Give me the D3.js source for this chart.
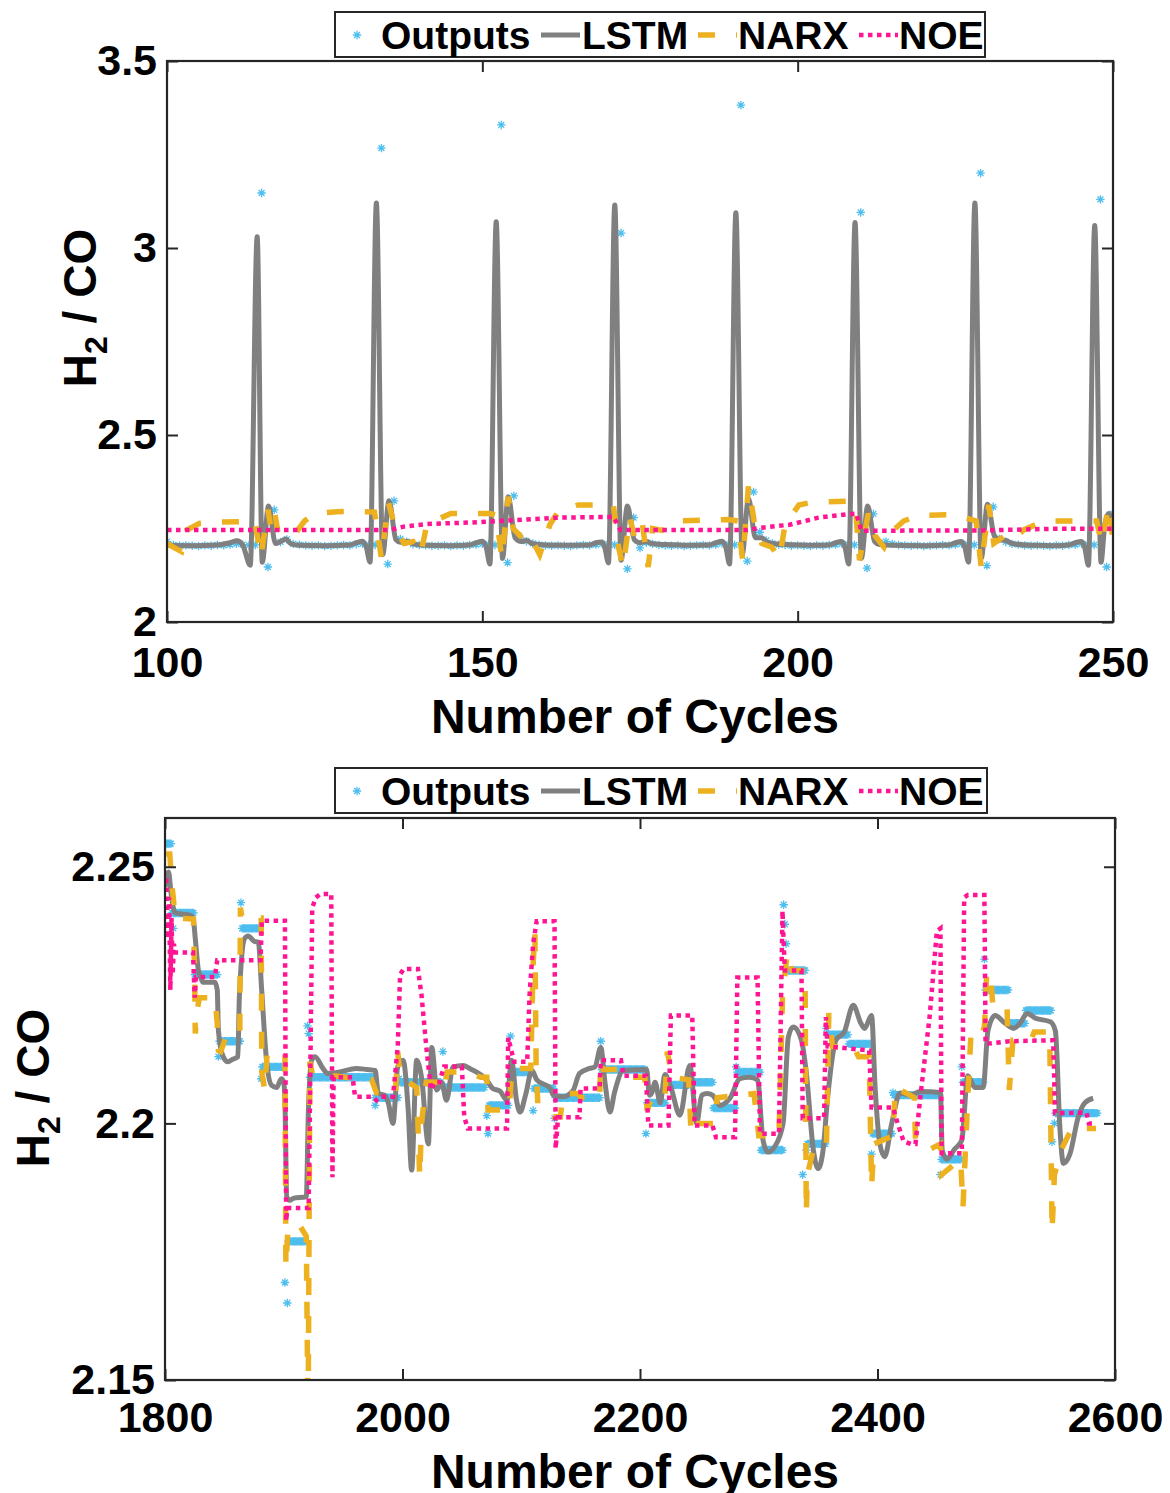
<!DOCTYPE html>
<html>
<head>
<meta charset="utf-8">
<script src="https://cdn.jsdelivr.net/npm/d3@7"></script>
<style>
body { margin: 0; background: #fff; }
svg text { font-family: "Liberation Sans", Arial, Helvetica, sans-serif; font-weight: bold; fill: #000; }
</style>
</head>
<body>
<svg id="chart"></svg>
<script>
// ---------- data : top panel (cycles 100-250) ----------
var outTopStart = 100;
var outTopY = [
  2.215, 2.206, 2.204, 2.205, 2.204, 2.203, 2.205, 2.204, 2.206, 2.205, 2.207, 2.209, 2.207, 2.205, 2.206,
  3.147, 2.147, 2.300, 2.214, 2.221,
  2.209, 2.207, 2.205, 2.204, 2.205, 2.203, 2.204, 2.205, 2.206, 2.205, 2.208, 2.209, 2.207, 2.206,
  3.267, 2.155, 2.324, 2.222, 2.215,
  2.208, 2.206, 2.205, 2.204, 2.204, 2.205, 2.203, 2.205, 2.204, 2.206, 2.207, 2.209, 2.208, 2.206,
  3.329, 2.159, 2.337, 2.225, 2.216,
  2.210, 2.207, 2.205, 2.204, 2.205, 2.204, 2.203, 2.205, 2.206, 2.205, 2.207, 2.209, 2.208, 2.206,
  3.040, 2.142, 2.279, 2.198, 2.212,
  2.209, 2.206, 2.205, 2.204, 2.205, 2.203, 2.204, 2.205, 2.206, 2.205, 2.207, 2.210, 2.208, 2.206,
  3.382, 2.163, 2.348, 2.240, 2.218,
  2.210, 2.207, 2.206, 2.204, 2.205, 2.204, 2.203, 2.205, 2.204, 2.206, 2.207, 2.209, 2.208, 2.206,
  3.095, 2.144, 2.289, 2.212, 2.215,
  2.209, 2.206, 2.205, 2.204, 2.205, 2.203, 2.204, 2.205, 2.206, 2.205, 2.207, 2.209, 2.208, 2.206,
  3.200, 2.151, 2.308, 2.222, 2.214,
  2.209, 2.207, 2.205, 2.204, 2.205, 2.204, 2.203, 2.205, 2.204, 2.206, 2.207, 2.209, 2.208, 2.206,
  3.130, 2.147, 2.290
];

var lstmTop = [
  [100,2.205],[104,2.204],[108,2.206],[110,2.212],[111.1,2.217],[112,2.206],[113.2,2.152],[114.3,3.03],[115.1,2.16],[116.1,2.31],[117.2,2.21],[118,2.215],[118.8,2.222],[119.6,2.21],[121,2.205],[125,2.204],[129,2.206],
  [130,2.212],[131,2.216],[131.6,2.2],[132.2,2.16],[133.2,3.12],[134.2,2.18],[135.2,2.324],[136.3,2.22],[137,2.213],[138.2,2.215],[139,2.209],[141,2.205],[145,2.204],[148,2.206],
  [149,2.212],[150,2.216],[150.6,2.2],[151.2,2.155],[152.2,3.07],[153.2,2.17],[154.1,2.335],[155.2,2.225],[156.2,2.215],[157,2.218],[158,2.209],[160,2.206],[164,2.205],[167,2.206],
  [168,2.212],[169,2.214],[169.4,2.2],[170,2.158],[171,3.115],[172,2.165],[173,2.31],[174.1,2.22],[175,2.212],[176,2.215],[177,2.209],[179,2.207],[183,2.205],[186,2.206],
  [187,2.212],[188,2.216],[188.6,2.2],[189.2,2.155],[190.2,3.094],[191.2,2.18],[192.2,2.33],[193.3,2.225],[194.3,2.225],[195,2.215],[196,2.21],[198,2.207],[202,2.205],[205,2.206],
  [206,2.212],[207,2.215],[207.5,2.2],[208.1,2.155],[209.1,3.068],[210.1,2.17],[211.1,2.31],[212.2,2.215],[213,2.207],[215,2.205],[220,2.204],[224,2.206],
  [225,2.212],[226,2.215],[226.5,2.2],[227.1,2.16],[228.1,3.12],[229.1,2.17],[230.1,2.315],[231.2,2.23],[232,2.22],[233,2.218],[234,2.21],[237,2.205],[241,2.204],[243,2.206],
  [244,2.212],[245,2.215],[245.5,2.2],[246.1,2.152],[247.1,3.06],[248.1,2.16],[248.7,2.26],[249.3,2.29],[250,2.25]
];

var narxTop = [
  [100,2.21],[101,2.2],[102.3,2.188],[103.1,2.246],[105.2,2.264],[108,2.267],[111,2.268],[113.9,2.27],[114.9,2.175],[116,2.3],[116.5,2.25],[117.1,2.29],[117.6,2.24],[118.9,2.23],[120.5,2.24],[121.8,2.27],[123.4,2.29],[127,2.295],[129.7,2.296],
  [132.9,2.294],[134,2.17],[135.1,2.32],[136.2,2.25],[137.6,2.21],[139,2.215],[140.2,2.18],[141.2,2.26],[142.3,2.27],[145,2.29],[151.2,2.29],
  [152.2,2.285],[153.1,2.17],[154.1,2.335],[154.9,2.25],[156,2.23],[157.3,2.24],[159.1,2.18],[160.7,2.26],[162,2.294],[165.2,2.313],[167.7,2.313],
  [170.8,2.31],[171.6,2.2],[172.3,2.147],[173.4,2.28],[174.2,2.22],[175.4,2.26],[176.3,2.147],[177,2.25],[178.5,2.245],[181,2.27],[189,2.274],
  [190.5,2.27],[191.3,2.165],[192.2,2.365],[193.1,2.27],[194.3,2.21],[195.9,2.2],[197.1,2.17],[198,2.26],[200.2,2.313],[202.2,2.32],[208.4,2.323],
  [209.2,2.3],[209.8,2.165],[211.2,2.29],[212.3,2.23],[213.7,2.2],[214.8,2.24],[216.8,2.27],[219.1,2.285],[225,2.287],
  [228.3,2.27],[229.1,2.147],[230.3,2.313],[231.1,2.21],[232.8,2.23],[234.2,2.22],[235.9,2.247],[239.1,2.27],[247.4,2.27],
  [248.2,2.21],[249.3,2.31],[250,2.22]
];

var noeTop = [
  [100,2.246],[135.4,2.246],[137.5,2.255],[141.2,2.262],[148,2.266],[153.9,2.271],[161.8,2.279],[170.8,2.281],[171.9,2.246],
  [191.9,2.246],[194.2,2.252],[198.7,2.26],[203.3,2.279],[208.4,2.289],[209.3,2.29],[210.1,2.244],[230,2.245],[240,2.249],[250,2.249]
];

// ---------- data : bottom panel (cycles 1800-2585) ----------
var stepStart = [1800,1806,1825,1846,1865,1882,1904,1922,1977,1998,2035,2073,2092,2111,2129,2168,2206,2222,2242,2262,2282,2302,2324,2341,2358,2376,2396,2414,2454,2472,2491,2511,2525,2550];
var stepEnd   = [1805,1824,1844,1863,1880,1900,1918,1976,1996,2032,2069,2089,2108,2127,2166,2204,2221,2241,2261,2280,2301,2320,2339,2356,2375,2394,2412,2452,2470,2489,2510,2524,2546,2585];
var stepValue = [2.2545,2.241,2.229,2.216,2.238,2.211,2.177,2.209,2.205,2.208,2.207,2.2035,2.21,2.2068,2.205,2.2105,2.204,2.2075,2.208,2.203,2.21,2.1948,2.2298,2.196,2.2173,2.2155,2.198,2.2055,2.193,2.208,2.226,2.2195,2.222,2.202];

var outPtX = [1807,1845,1864,1881,1901,1903,1920,1921,1977,1997,2034,2071,2072,2091,2110,2128,2167,2205,2281,2321,2322,2323,2337,2340,2357,2395,2413,2453,2471,2490,2547,2549];
var outPtY = [2.238,2.213,2.243,2.2087,2.169,2.165,2.219,2.2175,2.2035,2.2087,2.214,2.2015,2.198,2.217,2.2025,2.201,2.216,2.198,2.211,2.2426,2.2388,2.235,2.19,2.1948,2.2185,2.194,2.206,2.19,2.211,2.232,2.1964,2.2];

var lstmBot = [
  [1800,2.246],[1801,2.248],[1803,2.249],[1805,2.245],[1807,2.242],[1809,2.241],[1822,2.2405],[1824,2.2395],[1825.5,2.236],[1828,2.23],[1830,2.2285],[1832,2.2275],[1842,2.2275],[1844,2.226],[1845,2.218],[1849,2.213],[1853,2.212],[1857,2.2125],[1861.4,2.213],
  [1862.6,2.2246],[1867,2.236],[1870,2.2365],[1875,2.2355],[1878.6,2.2353],[1881.4,2.226],[1885.6,2.212],[1889.8,2.2074],[1894,2.207],[1898,2.2087],[1900,2.208],[1901,2.204],[1902.5,2.1857],[1905,2.185],[1908,2.1854],[1919,2.1857],
  [1920.7,2.202],[1923.5,2.2123],[1926.3,2.213],[1933,2.2107],[1937.2,2.2097],[1947,2.21],[1961,2.2107],[1970,2.2105],[1977,2.2103],[1979.6,2.2058],[1985,2.2055],[1988,2.204],[1992,2.2],[1996,2.211],[2000.5,2.2123],[2004.7,2.203],[2007.7,2.1909],
  [2011.9,2.2123],[2016,2.209],[2021.8,2.196],[2024.6,2.2148],[2029,2.2065],[2033,2.208],[2037,2.2045],[2042.6,2.211],[2051,2.2113],[2056.6,2.2107],[2071,2.2084],[2076,2.2068],[2082,2.2063],[2088,2.2045],[2091.8,2.2123],[2096,2.2045],[2099,2.2022],
  [2103.6,2.2055],[2109,2.2103],[2113,2.2085],[2124.6,2.2068],[2127,2.2055],[2135,2.2052],[2143.6,2.2064],[2149,2.2097],[2157.6,2.2107],[2162,2.211],[2167,2.2148],[2170.5,2.208],[2174.7,2.2022],[2178.5,2.206],[2186,2.2103],[2205.6,2.2105],
  [2208,2.2055],[2210,2.206],[2212.7,2.208],[2217,2.204],[2221,2.2095],[2226,2.207],[2233.6,2.2016],[2242,2.2113],[2247.7,2.2],[2252,2.2055],[2256.6,2.2058],[2261,2.2055],[2267.7,2.2035],[2272,2.204],[2276,2.205],[2284,2.2087],[2292,2.209],[2299,2.2085],
  [2303.6,2.1967],[2307.8,2.1944],[2313.5,2.1955],[2320.5,2.2],[2324.9,2.2168],[2329,2.2188],[2336,2.2162],[2340,2.21],[2346,2.1948],[2350,2.1912],[2354,2.1945],[2358,2.205],[2365,2.2162],[2372,2.2178],[2379.6,2.223],[2386,2.2195],[2389,2.2185],[2395,2.221],
  [2398,2.207],[2402,2.196],[2406,2.1935],[2412,2.2],[2419,2.2059],[2427.6,2.2055],[2436,2.2062],[2453,2.206],[2454.5,2.1948],[2458.5,2.193],[2465,2.195],[2471,2.1967],[2476,2.2093],[2482,2.207],[2489,2.207],[2493,2.218],[2499,2.221],
  [2507.5,2.2195],[2514.6,2.2185],[2520,2.2195],[2526,2.2214],[2533,2.2205],[2545.6,2.2198],[2549.8,2.218],[2553.7,2.1987],[2556.5,2.1922],[2562,2.194],[2569,2.2012],[2574.6,2.204],[2581.6,2.2049]
];

var narxBot = [
  [1801,2.2525],[1804,2.2525],[1806,2.246],[1807,2.244],[1808.4,2.24],[1824,2.2398],[1825,2.2285],[1825.5,2.2175],[1827,2.222],[1829,2.2245],[1842,2.2245],[1844,2.2195],[1845,2.2142],[1847,2.214],[1853,2.218],[1863,2.218],[1863.5,2.242],[1865,2.24],[1881,2.24],
  [1881.5,2.21],[1884,2.2065],[1886,2.2136],[1901,2.2136],[1901.8,2.172],[1903.6,2.1798],[1913.7,2.18],[1919,2.178],[1920.5,2.14],[1922,2.212],[1924,2.2097],[1964,2.2087],[1974,2.2085],[1978,2.206],[1994,2.2055],[1996,2.214],[1998,2.209],
  [2005,2.208],[2012,2.207],[2014.5,2.1895],[2016,2.2],[2020,2.208],[2033,2.208],[2035,2.2065],[2037.5,2.21],[2051.6,2.21],[2066,2.209],[2071,2.209],[2072,2.2026],[2090,2.2026],[2092,2.2107],[2108,2.2107],[2110,2.231],[2111.5,2.2375],[2112.5,2.2117],
  [2114,2.2035],[2117,2.2026],[2127,2.2013],[2133,2.2013],[2135,2.2058],[2148,2.2058],[2150,2.205],[2166,2.205],[2167,2.2123],[2169,2.2105],[2186,2.2105],[2189,2.209],[2204,2.209],[2206,2.2025],[2210,2.205],[2221,2.205],[2223,2.214],[2227,2.209],
  [2241,2.2085],[2243,2.198],[2245,2.2],[2261,2.2],[2263,2.2],[2265,2.205],[2296,2.2058],[2300,2.1976],[2317,2.1976],[2320,2.2245],[2324,2.2333],[2328,2.2298],[2339,2.2298],[2340,2.1825],[2341,2.19],[2346,2.195],[2357,2.1955],[2359,2.2215],
  [2362,2.215],[2370,2.2148],[2380,2.2148],[2384,2.213],[2393,2.213],[2395,2.1876],[2397,2.196],[2413,2.1976],[2415,2.207],[2425,2.2058],[2431,2.205],[2432,2.1967],[2443,2.1948],[2453,2.196],[2454,2.19],[2470,2.193],[2472,2.1837],[2476,2.205],
  [2479,2.2188],[2483,2.219],[2490,2.2185],[2492,2.2294],[2495,2.2294],[2497,2.2233],[2509,2.2233],[2511,2.2065],[2514,2.2162],[2529,2.2162],[2532,2.2178],[2545,2.2178],[2547,2.179],[2549,2.19],[2555,2.195],[2563,2.1987],[2567,2.1995],[2574,2.199],[2584,2.199]
];

var noeBot = [
  [1801,2.2477],[1802.5,2.236],[1803.5,2.244],[1804.5,2.226],[1805.5,2.24],[1806.5,2.229],[1807.5,2.235],[1808.5,2.2333],[1823.6,2.2333],[1825,2.2245],[1826,2.2285],[1842,2.2285],[1844,2.2318],[1880.5,2.2318],[1881.5,2.2395],[1901,2.2395],
  [1902,2.181],[1903,2.1835],[1921,2.1835],[1924,2.242],[1927,2.244],[1931,2.2447],[1940,2.2447],[1941,2.1895],[1942,2.209],[1958,2.209],[1960,2.2052],[1975,2.2052],[1978,2.2045],[1981,2.2052],[1992,2.2052],[1996,2.215],[1998,2.229],[2001,2.2301],
  [2013,2.2301],[2016,2.225],[2020,2.215],[2024,2.2065],[2027,2.208],[2031,2.208],[2035,2.2111],[2050,2.2111],[2052,2.2012],[2055,2.199],[2088,2.199],[2089,2.2167],[2094,2.212],[2105,2.212],[2107,2.225],[2110,2.235],[2113,2.2394],[2128,2.2394],
  [2129,2.1951],[2131,2.2012],[2149,2.2012],[2150,2.2068],[2166,2.2068],[2167,2.2123],[2184,2.2123],[2186,2.2093],[2205,2.2093],[2207,2.1996],[2224,2.1996],[2226,2.221],[2244,2.221],[2246,2.1996],[2261,2.1996],[2264,2.1973],[2280,2.1973],
  [2282,2.2284],[2299,2.2284],[2301,2.198],[2317,2.198],[2320,2.2414],[2321,2.235],[2322,2.2298],[2336,2.2298],[2337,2.201],[2355,2.201],[2356.5,2.2207],[2358,2.215],[2393,2.2142],[2395,2.2031],[2413,2.2031],[2417,2.2],[2422,2.1965],[2428,2.196],
  [2432,2.196],[2436,2.205],[2444,2.221],[2450,2.2375],[2453,2.238],[2454,2.1942],[2471,2.1942],[2473,2.244],[2476,2.2445],[2490,2.2445],[2491,2.2155],[2511,2.216],[2548,2.2162],[2549.5,2.202],[2576,2.2021],[2578,2.2],[2584,2.2]
];

var legendNames = ["Outputs", "LSTM", "NARX", "NOE"];

// ---------- drawing ----------
var colOut = "#4DBEEE", colLstm = "#808080", colNarx = "#EDB120", colNoe = "#FF1493";
var axisCol = "#262626";

var svg = d3.select("#chart").attr("width", 1170).attr("height", 1493);

function asterisk(s) {
  var k = s * 0.7;
  return "M" + (-s) + ",0H" + s + "M0," + (-s) + "V" + s +
         "M" + (-k) + "," + (-k) + "L" + k + "," + k + "M" + (-k) + "," + k + "L" + k + "," + (-k);
}

function panel(p) {
  var x = d3.scaleLinear().domain(p.xDomain).range([p.left, p.right]);
  var y = d3.scaleLinear().domain(p.yDomain).range([p.bottom, p.top]);
  var g = svg.append("g");

  g.append("clipPath").attr("id", "clip" + p.id)
    .append("rect").attr("x", p.left).attr("y", p.top)
    .attr("width", p.right - p.left).attr("height", p.bottom - p.top);

  var plot = g.append("g").attr("clip-path", "url(#clip" + p.id + ")");

  plot.append("g").selectAll("path").data(p.out).enter().append("path")
    .attr("d", asterisk(4.2))
    .attr("transform", function(d) { return "translate(" + x(d[0]) + "," + y(d[1]) + ")"; })
    .attr("fill", "none").attr("stroke", colOut).attr("stroke-width", 1.3);

  var smooth = d3.line().x(function(d) { return x(d[0]); }).y(function(d) { return y(d[1]); }).curve(d3.curveMonotoneX);
  var straight = d3.line().x(function(d) { return x(d[0]); }).y(function(d) { return y(d[1]); });

  plot.append("path").datum(p.lstm).attr("d", smooth)
    .attr("fill", "none").attr("stroke", colLstm).attr("stroke-width", 5).attr("stroke-linejoin", "round");
  plot.append("path").datum(p.narx).attr("d", straight)
    .attr("fill", "none").attr("stroke", colNarx).attr("stroke-width", 5.5).attr("stroke-dasharray", "17,21");
  plot.append("path").datum(p.noe).attr("d", straight)
    .attr("fill", "none").attr("stroke", colNoe).attr("stroke-width", 4.5).attr("stroke-dasharray", "4.5,4.5");

  // ticks (inward, all four sides)
  function style(sel, size) {
    sel.select(".domain").remove();
    sel.selectAll(".tick line").attr("stroke", axisCol).attr("stroke-width", 2);
    sel.attr("font-size", size).attr("font-family", null);
  }
  g.append("g").attr("transform", "translate(0," + p.bottom + ")")
    .call(d3.axisBottom(x).tickValues(p.xTicks).tickSizeInner(-11).tickSizeOuter(0).tickPadding(p.xPad).tickFormat(d3.format("d")))
    .call(style, 43);
  g.append("g").attr("transform", "translate(0," + p.top + ")")
    .call(d3.axisTop(x).tickValues(p.xTicks).tickSizeInner(-11).tickSizeOuter(0).tickFormat(""))
    .call(style, 10);
  g.append("g").attr("transform", "translate(" + p.left + ",0)")
    .call(d3.axisLeft(y).tickValues(p.yTicks).tickSizeInner(-11).tickSizeOuter(0).tickPadding(10).tickFormat(function(d) { return String(d); }))
    .call(style, 43);
  g.append("g").attr("transform", "translate(" + p.right + ",0)")
    .call(d3.axisRight(y).tickValues(p.yTicks).tickSizeInner(-11).tickSizeOuter(0).tickFormat(""))
    .call(style, 10);

  g.append("rect").attr("x", p.left).attr("y", p.top)
    .attr("width", p.right - p.left).attr("height", p.bottom - p.top)
    .attr("fill", "none").attr("stroke", axisCol).attr("stroke-width", 2.2);

  // axis titles
  g.append("text").attr("x", (p.left + p.right) / 2 - 5).attr("y", p.xLabelY)
    .attr("text-anchor", "middle").attr("font-size", 48).text("Number of Cycles");

  var yl = g.append("text").attr("text-anchor", "middle").attr("font-size", 46)
    .attr("transform", "translate(" + p.yLabelX + "," + p.yLabelY + ") rotate(-90)");
  yl.append("tspan").text("H");
  yl.append("tspan").attr("font-size", 32).attr("dy", 11).text("2");
  yl.append("tspan").attr("dy", -11).text(" / CO");

  legend(p.legX, p.legY, p.legW);
}

function legend(x0, y0, w) {
  var lg = svg.append("g");
  lg.append("rect").attr("x", x0).attr("y", y0).attr("width", w).attr("height", 45)
    .attr("fill", "#fff").attr("stroke", axisCol).attr("stroke-width", 2);
  var cy = y0 + 23;
  lg.append("path").attr("d", asterisk(4.2)).attr("transform", "translate(" + (x0 + 22) + "," + cy + ")")
    .attr("fill", "none").attr("stroke", colOut).attr("stroke-width", 1.3);
  lg.append("line").attr("x1", x0 + 206).attr("x2", x0 + 245).attr("y1", cy).attr("y2", cy)
    .attr("stroke", colLstm).attr("stroke-width", 5);
  lg.append("line").attr("x1", x0 + 363).attr("x2", x0 + 402).attr("y1", cy).attr("y2", cy)
    .attr("stroke", colNarx).attr("stroke-width", 5.5).attr("stroke-dasharray", "17,21");
  lg.append("line").attr("x1", x0 + 524).attr("x2", x0 + 563).attr("y1", cy).attr("y2", cy)
    .attr("stroke", colNoe).attr("stroke-width", 4.5).attr("stroke-dasharray", "4.5,4.5");
  var tx = [46, 247, 403, 564];
  lg.selectAll("text").data(legendNames).enter().append("text")
    .attr("x", function(d, i) { return x0 + tx[i]; }).attr("y", y0 + 37)
    .attr("font-size", 39).text(function(d) { return d; });
}

// top panel series
var outTop = outTopY.map(function(v, i) { return [outTopStart + i, v]; });

// bottom panel outputs: one marker per cycle on each held level, plus single points
var outBot = [];
stepStart.forEach(function(s, i) {
  for (var c = s; c <= stepEnd[i]; c++) outBot.push([c, stepValue[i]]);
});
outPtX.forEach(function(c, i) { outBot.push([c, outPtY[i]]); });

panel({
  id: "top", left: 167, right: 1113, top: 61, bottom: 622,
  xDomain: [100, 250], yDomain: [2, 3.5],
  xTicks: [100, 150, 200, 250], yTicks: [2, 2.5, 3, 3.5], xPad: 24,
  out: outTop, lstm: lstmTop, narx: narxTop, noe: noeTop,
  xLabelY: 733, yLabelX: 96, yLabelY: 308,
  legX: 335, legY: 12, legW: 650
});

panel({
  id: "bot", left: 165, right: 1115, top: 818, bottom: 1380,
  xDomain: [1800, 2600], yDomain: [2.15, 2.2595],
  xTicks: [1800, 2000, 2200, 2400, 2600], yTicks: [2.15, 2.2, 2.25], xPad: 21,
  out: outBot, lstm: lstmBot, narx: narxBot, noe: noeBot,
  xLabelY: 1488, yLabelX: 49, yLabelY: 1088,
  legX: 335, legY: 768, legW: 652
});
</script>
</body>
</html>
